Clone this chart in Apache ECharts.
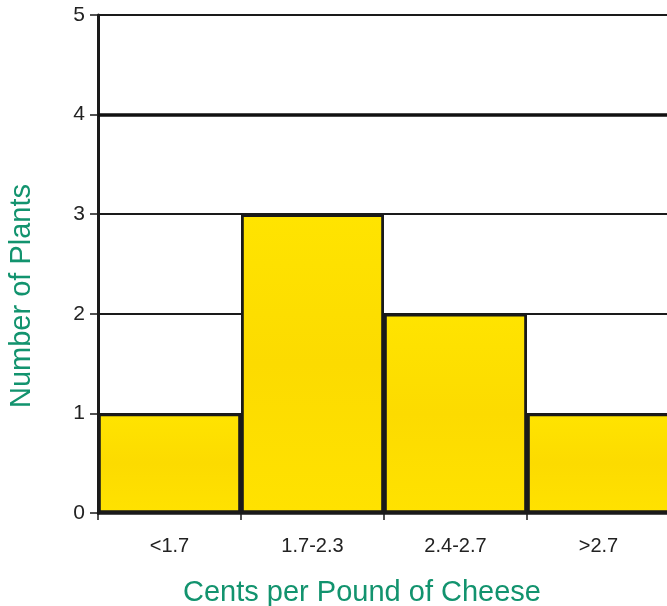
<!DOCTYPE html>
<html>
<head>
<meta charset="utf-8">
<script src="https://cdn.jsdelivr.net/npm/echarts@6/dist/echarts.min.js"></script>
<style>
  html, body { margin: 0; padding: 0; background: #fff; }
  #chart { width: 667px; height: 606px; }
</style>
</head>
<body>
<div id="chart"></div>
<script>
// Price bands (cents per pound) and how many plants fall in each
const categories = ['<1.7', '1.7-2.3', '2.4-2.7', '>2.7'];
const plantCounts = [1, 3, 2, 1];
const yTicks = [0, 1, 2, 3, 4, 5];
const emphasisLine = 4;

const FONT = 'Liberation Sans, Arial, sans-serif';
const chart = echarts.init(document.getElementById('chart'), null, { renderer: 'canvas' });

chart.setOption({
  animation: false,
  backgroundColor: '#ffffff',
  grid: { left: 98, top: 15, width: 572, height: 498, containLabel: false, outerBoundsMode: 'none' },
  xAxis: {
    type: 'category',
    data: categories,
    name: 'Cents per Pound of Cheese',
    nameLocation: 'middle',
    nameGap: 65,
    nameTextStyle: { color: '#12936e', fontSize: 29, fontFamily: FONT, padding: [0, 44, 0, 0] },
    axisLine: { lineStyle: { color: '#1a1a1a', width: 2.5 } },
    axisTick: { show: true, alignWithLabel: false, length: 7, lineStyle: { color: '#1a1a1a', width: 1.5 } },
    axisLabel: { color: '#222', fontSize: 20, margin: 23, fontFamily: FONT },
    splitLine: { show: false }
  },
  yAxis: {
    type: 'value',
    min: yTicks[0],
    max: yTicks[yTicks.length - 1],
    interval: 1,
    name: 'Number of Plants',
    nameLocation: 'middle',
    nameGap: 62,
    nameRotate: 90,
    nameTextStyle: { color: '#12936e', fontSize: 29, fontFamily: FONT, padding: [0, 64, 0, 0] },
    axisLine: { show: true, lineStyle: { color: '#1a1a1a', width: 3 } },
    axisTick: { show: true, length: 8, lineStyle: { color: '#1a1a1a', width: 1.5 } },
    axisLabel: { color: '#222', fontSize: 21, margin: 13, fontFamily: FONT },
    splitLine: { show: true, lineStyle: { color: '#1a1a1a', width: 2.2 } }
  },
  series: [{
    type: 'bar',
    data: plantCounts,
    barWidth: '100%',
    barCategoryGap: 0,
    itemStyle: {
      color: new echarts.graphic.LinearGradient(0, 0, 0, 1, [
        { offset: 0, color: '#ffe400' },
        { offset: 0.5, color: '#fcdb00' },
        { offset: 1, color: '#ffe200' }
      ]),
      borderColor: '#1a1a1a',
      borderWidth: 2.8
    },
    markLine: {
      silent: true,
      symbol: 'none',
      label: { show: false },
      lineStyle: { color: '#111', width: 3.5, type: 'solid' },
      data: [{ yAxis: emphasisLine }]
    }
  }]
});
</script>
</body>
</html>
